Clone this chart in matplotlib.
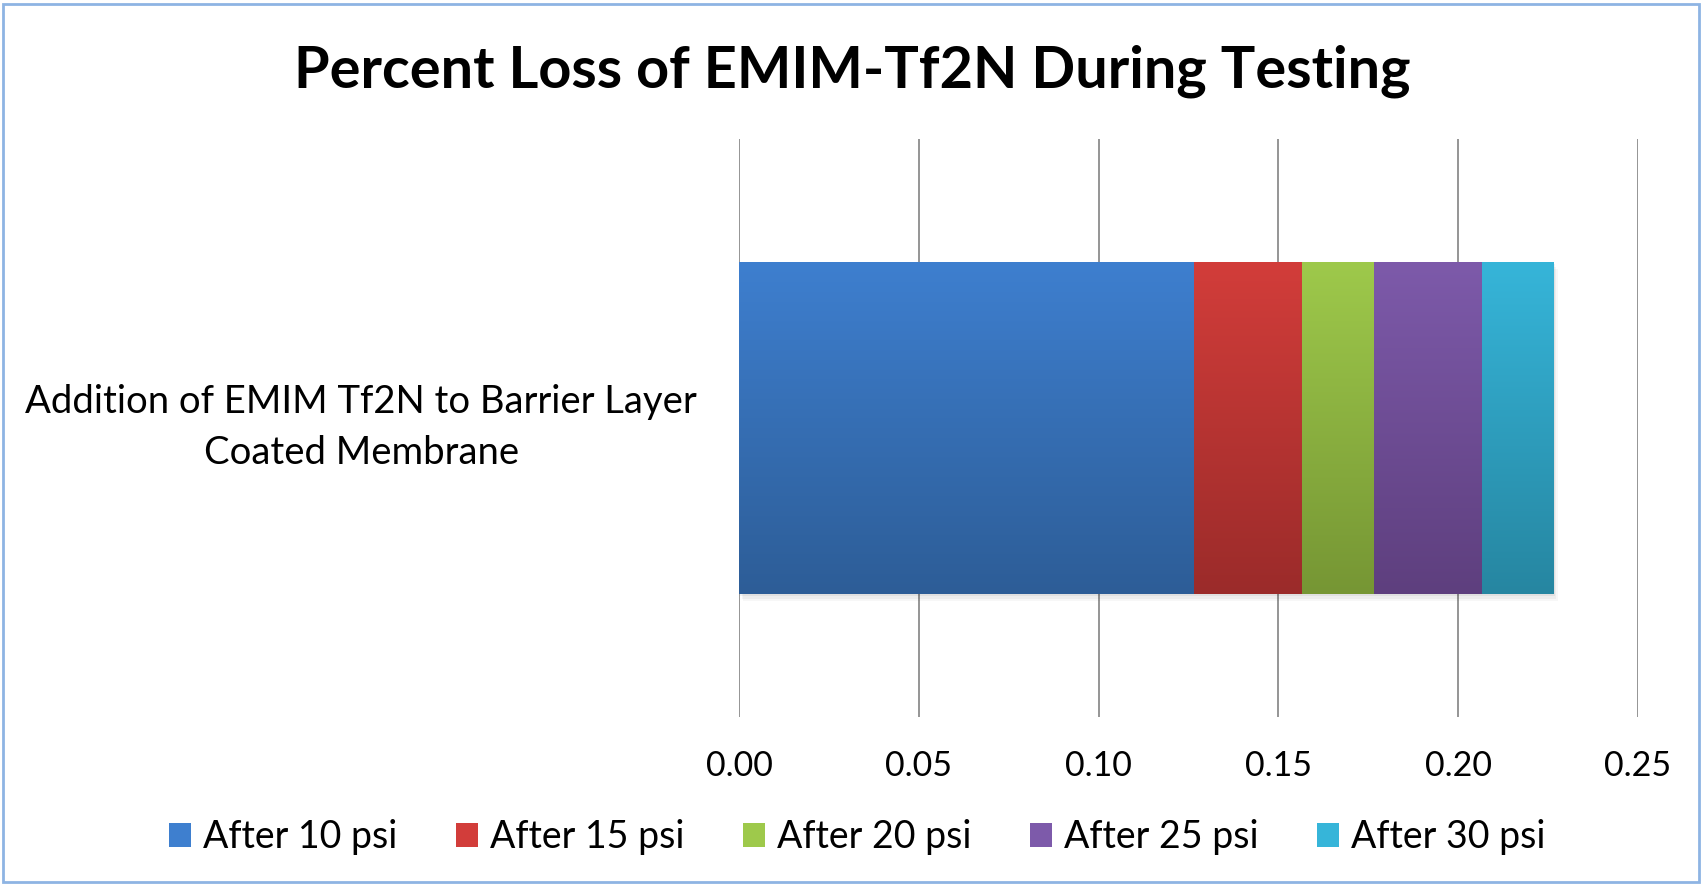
import numpy as np
import matplotlib.pyplot as plt
from matplotlib.colors import LinearSegmentedColormap
from matplotlib.patches import Rectangle
from matplotlib.transforms import ScaledTranslation

# data
category = 'Addition of EMIM Tf2N to Barrier Layer\nCoated Membrane'
series = ['After 10 psi', 'After 15 psi', 'After 20 psi', 'After 25 psi', 'After 30 psi']
values = [0.1265, 0.030, 0.020, 0.030, 0.020]
xticks = [0.00, 0.05, 0.10, 0.15, 0.20, 0.25]

# (top colour, bottom colour) for the gradient fill of each segment
top_cols = ['#3E7FCF', '#D23D3A', '#9EC94B', '#7D5AAA', '#36B5D9']
bot_cols = ['#2D5D97', '#9B2B2A', '#769634', '#5E3F7E', '#2686A1']

plt.rcParams['font.family'] = ['Lato', 'DejaVu Sans']

fig = plt.figure(figsize=(17.04, 8.85), dpi=100)
ax = fig.add_axes([739 / 1704, 1 - 717 / 885, 899 / 1704, (717 - 139) / 885])

left = 0
grad = np.linspace(1, 0, 256).reshape(-1, 1)
for name, v, ct, cb in zip(series, values, top_cols, bot_cols):
    bars = ax.barh([0], [v], left=left, height=0.574, color=ct, label=name, zorder=2)
    p = bars[0]
    x0, y0, w, h = p.get_x(), p.get_y(), p.get_width(), p.get_height()
    cmap = LinearSegmentedColormap.from_list(name, [cb, ct])
    ax.imshow(grad, cmap=cmap, extent=[x0, x0 + w, y0, y0 + h], aspect='auto',
              origin='upper', zorder=3, interpolation='bicubic')
    left += v

# soft shadow under/right of the bar
total = sum(values)
for k, a in enumerate([0.05, 0.04, 0.03]):
    d = 0.0004 * (k + 1)
    ax.add_patch(Rectangle((d, -0.287 - 0.004 * (k + 1)), total, 0.574, color='#000000',
                           alpha=a, zorder=1, linewidth=0))

ax.set_xlim(0, 0.25)
ax.set_ylim(-0.5, 0.5)
ax.set_xticks(xticks, labels=[f'{t:.2f}' for t in xticks])
ax.set_yticks([0], labels=[category])
ax.tick_params(axis='y', length=0, pad=272, labelsize=27.5)
ax.tick_params(axis='x', length=0, pad=24, labelsize=24.5)
for lab in ax.get_yticklabels():
    lab.set_horizontalalignment('center')
    lab.set_multialignment('center')
    lab.set_linespacing(1.5)
    lab.set_transform(lab.get_transform() + ScaledTranslation(0, 0.11, fig.dpi_scale_trans))
ax.grid(axis='x', color='#8C8C8C', linewidth=1.3, zorder=0)
ax.set_axisbelow(True)
for s in ax.spines.values():
    s.set_visible(False)

fig.text(0.5, 1 - 71 / 885, 'Percent Loss of EMIM-Tf2N During Testing',
         ha='center', va='center', fontsize=41.5, fontweight='bold')

handles, labels = ax.get_legend_handles_labels()
fig.legend(handles, labels, loc='center', bbox_to_anchor=(0.503, 1 - 837 / 885),
           ncol=5, frameon=False, fontsize=27, handlelength=0.6, handleheight=0.6,
           handletextpad=0.32, columnspacing=1.55)

fig.add_artist(Rectangle((0.0015, 0.003), 0.9955, 0.993, transform=fig.transFigure,
                         fill=False, edgecolor='#8EB4E3', linewidth=2))

fig.savefig('out.png', dpi=100)
